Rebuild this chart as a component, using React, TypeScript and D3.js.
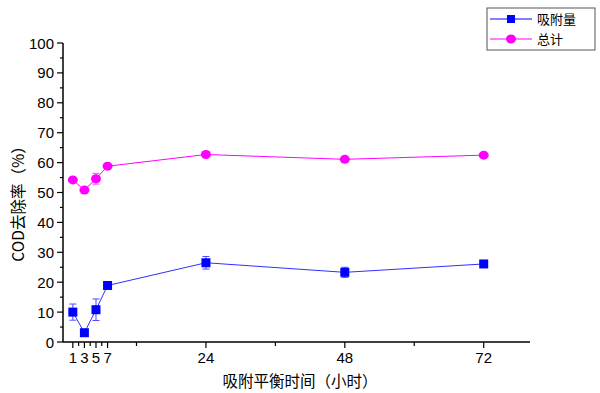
import React from "react";
import * as d3 from "d3";

const times = [1, 3, 5, 7, 24, 48, 72];
const adsorption = [10.0, 3.1, 10.8, 18.9, 26.5, 23.3, 26.1];
const adsorptionErr = [2.7, 1.0, 3.6, 0.5, 2.1, 1.7, 0.4];
const total = [54.2, 50.8, 54.6, 58.8, 62.7, 61.1, 62.5];
const totalErr = [0.5, 0.5, 1.8, 0.5, 0.6, 0.4, 0.3];
const xLabelTicks = [1, 3, 5, 7, 24, 48, 72];
const xSmallTicks = [2, 4, 6];
const xMinorTicks = [12, 36, 60];
const yMajorTicks = [0, 10, 20, 30, 40, 50, 60, 70, 80, 90, 100];
const yMinorTicks = [5, 15, 25, 35, 45, 55, 65, 75, 85, 95];
const seriesNames = ["吸附量", "总计"];

const BLUE = "#0000ff";
const MAGENTA = "#ff00ff";

export default function App() {
  const W = 600, H = 393;
  const x = d3.scaleLinear().domain([-0.7, 80]).range([63, 530]);
  const y = d3.scaleLinear().domain([0, 100]).range([342, 43]);
  const line = d3.line<number>().x((_, i) => x(times[i])).y((d) => y(d));
  const font = "'Liberation Sans', Arial, sans-serif";
  const cjk = "'Noto Sans CJK SC', sans-serif";

  const errBars = (vals: number[], errs: number[], color: string) =>
    vals.map((v, i) => {
      const cx = x(times[i]);
      const y1 = y(v + errs[i]), y2 = y(v - errs[i]);
      return (
        <g key={i} stroke={color} strokeWidth={1} opacity={0.7}>
          <line x1={cx} x2={cx} y1={y1} y2={y2} />
          <line x1={cx - 3.5} x2={cx + 3.5} y1={y1} y2={y1} />
          <line x1={cx - 3.5} x2={cx + 3.5} y1={y2} y2={y2} />
        </g>
      );
    });

  return (
    <svg width={W} height={H} style={{ position: "absolute", left: 0, top: 0, background: "#fff" }}>
      <rect width={W} height={H} fill="#fff" />
      {/* axes */}
      <line x1={63} x2={63} y1={43} y2={342} stroke="#000" strokeWidth={1.5} />
      <line x1={63} x2={530} y1={342} y2={342} stroke="#000" strokeWidth={1.5} />
      {yMajorTicks.map((t) => (
        <g key={"ym" + t}>
          <line x1={57} x2={63} y1={y(t)} y2={y(t)} stroke="#000" strokeWidth={1.2} />
          <text x={54} y={y(t) + 5.5} textAnchor="end" fontFamily={font} fontSize={15}>{t}</text>
        </g>
      ))}
      {yMinorTicks.map((t) => (
        <line key={"yn" + t} x1={60} x2={63} y1={y(t)} y2={y(t)} stroke="#000" strokeWidth={1.2} />
      ))}
      {xLabelTicks.map((t) => (
        <g key={"xm" + t}>
          <line x1={x(t)} x2={x(t)} y1={342} y2={348} stroke="#000" strokeWidth={1.2} />
          <text x={x(t)} y={363} textAnchor="middle" fontFamily={font} fontSize={15}>{t}</text>
        </g>
      ))}
      {xSmallTicks.map((t) => (
        <line key={"xs" + t} x1={x(t)} x2={x(t)} y1={342} y2={346} stroke="#000" strokeWidth={1.2} />
      ))}
      {xMinorTicks.map((t) => (
        <line key={"xn" + t} x1={x(t)} x2={x(t)} y1={342} y2={346} stroke="#000" strokeWidth={1.2} />
      ))}
      {/* axis labels */}
      <text x={300} y={387} textAnchor="middle" fontFamily={cjk} fontSize={15.5}>吸附平衡时间（小时）</text>
      <text transform="translate(24,200) rotate(-90)" textAnchor="middle" fontFamily={cjk} fontSize={15.5}>COD去除率（%）</text>
      {/* series */}
      <path d={line(adsorption) || ""} fill="none" stroke="#3030ff" strokeWidth={1} />
      <path d={line(total) || ""} fill="none" stroke={MAGENTA} strokeWidth={1} />
      {errBars(adsorption, adsorptionErr, BLUE)}
      {errBars(total, totalErr, MAGENTA)}
      {adsorption.map((v, i) => (
        <rect key={"a" + i} x={x(times[i]) - 4.5} y={y(v) - 4.5} width={9} height={9} fill={BLUE} />
      ))}
      {total.map((v, i) => (
        <ellipse key={"t" + i} cx={x(times[i])} cy={y(v)} rx={5} ry={4.5} fill={MAGENTA} />
      ))}
      {/* legend */}
      <rect x={487} y={8} width={108} height={42} fill="#fff" stroke="#555" strokeWidth={1} />
      <line x1={490} x2={532} y1={19} y2={19} stroke={BLUE} strokeWidth={1} />
      <rect x={507} y={15} width={8} height={8} fill={BLUE} />
      <text x={537} y={24} fontFamily={cjk} fontSize={13}>{seriesNames[0]}</text>
      <line x1={490} x2={532} y1={39} y2={39} stroke={MAGENTA} strokeWidth={1} />
      <ellipse cx={511} cy={39} rx={5} ry={4.5} fill={MAGENTA} />
      <text x={537} y={44} fontFamily={cjk} fontSize={13}>{seriesNames[1]}</text>
    </svg>
  );
}
